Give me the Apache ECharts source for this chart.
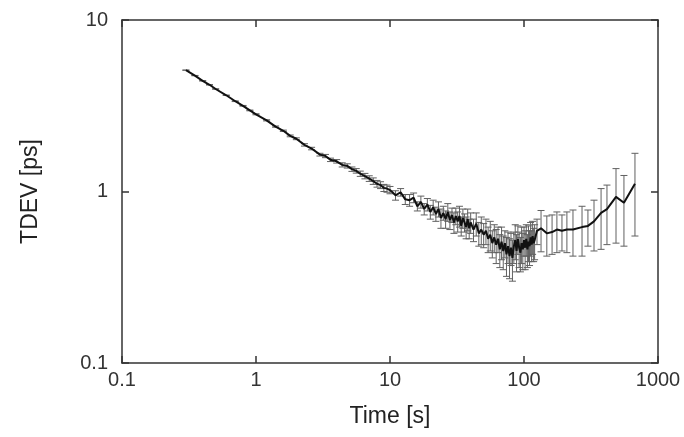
<!DOCTYPE html>
<html>
<head>
<meta charset="utf-8">
<title>TDEV</title>
<script src="https://cdn.jsdelivr.net/npm/echarts@6/dist/echarts.min.js"></script>
<style>
html,body{margin:0;padding:0;background:#fff;}
#main{width:684px;height:437px;}
</style>
</head>
<body>
<div id="main"></div>
<script>
// averaging time [s]
var tau = [
	0.3,0.35,0.4,0.45,0.5,0.6,0.7,0.8,0.9,1.0,1.2,1.4,1.6,1.8,2.0,2.3,2.6,3.0,3.3,3.6,4.0,4.4,4.8,5.2,5.6,6.0,6.5,7.0,7.5,8.0,8.5,9.0,9.5,
	10,11,12,13,14,15,16,17,18,19,20,21,22,23,24,25,26,27,28,29,30,31,32,33,34,35,36,37,38,39,40,
	42,44,46,48,50,52,54,56,58,60,62,64,66,68,70,72,74,76,78,80,82,84,86,88,90,92,94,96,98,100,102,104,106,108,110,112,114,116,118,120,
	125,134,148,162,176,192,209,232,271,300,333,376,416,486,557,673
];
// TDEV [ps]
var tdev = [
	5.10,4.74,4.42,4.19,3.96,3.64,3.36,3.16,2.97,2.82,2.60,2.39,2.26,2.11,2.03,1.87,1.78,1.64,1.61,1.53,1.50,1.43,1.41,1.35,1.32,1.27,1.23,1.19,1.15,1.11,1.09,1.05,1.04,
	1.02,0.95,0.99,0.90,0.89,0.92,0.82,0.87,0.79,0.84,0.76,0.81,0.74,0.79,0.70,0.75,0.69,0.76,0.68,0.73,0.66,0.72,0.67,0.72,0.63,0.70,0.66,0.62,0.69,0.61,0.66,
	0.60,0.65,0.57,0.60,0.56,0.59,0.53,0.56,0.50,0.54,0.49,0.53,0.46,0.51,0.45,0.50,0.43,0.48,0.42,0.47,0.41,0.48,0.52,0.45,0.53,0.47,0.44,0.50,0.46,0.52,0.47,0.53,0.46,0.51,0.48,0.54,0.49,0.55,0.50,0.52,
	0.59,0.61,0.57,0.58,0.60,0.59,0.60,0.60,0.62,0.63,0.67,0.75,0.79,0.93,0.86,1.11
];
// error bar half width [ps]
var tdevErr = [
	0.01,0.01,0.01,0.01,0.01,0.01,0.015,0.015,0.015,0.02,0.02,0.02,0.02,0.025,0.025,0.03,0.03,0.03,0.035,0.035,0.035,0.04,0.04,0.04,0.04,0.045,0.045,0.045,0.05,0.05,0.05,0.05,0.05,
	0.05,0.06,0.05,0.06,0.07,0.06,0.05,0.07,0.06,0.07,0.07,0.08,0.07,0.08,0.09,0.07,0.08,0.09,0.08,0.07,0.09,0.08,0.09,0.10,0.08,0.09,0.08,0.09,0.10,0.08,0.09,
	0.09,0.10,0.09,0.11,0.09,0.10,0.09,0.11,0.09,0.10,0.11,0.09,0.10,0.11,0.10,0.09,0.11,0.10,0.11,0.10,0.11,0.10,0.12,0.11,0.10,0.11,0.10,0.12,0.11,0.10,0.12,0.11,0.10,0.12,0.11,0.12,0.10,0.12,0.11,0.12,
	0.10,0.165,0.15,0.15,0.16,0.14,0.16,0.18,0.20,0.15,0.22,0.29,0.30,0.43,0.38,0.56
];
var xTicks = [0.1, 1, 10, 100, 1000];
var yTicks = [0.1, 1, 10];

var lineData = [];
var errData = [];
for (var i = 0; i < tau.length; i++) {
	lineData.push([tau[i], tdev[i]]);
	errData.push([tau[i], tdev[i] - tdevErr[i], tdev[i] + tdevErr[i]]);
}

function fmtTick(v){
	return String(+Number(v).toPrecision(6));
}

var axisCol = '#333';
var myChart = echarts.init(document.getElementById('main'));
var option = {
	backgroundColor: '#fff',
	animation: false,
	textStyle: { fontFamily: 'Liberation Sans, Arial, sans-serif' },
	grid: { left: 122, right: 26, top: 20, bottom: 74 },
	xAxis: [{
		type: 'log', logBase: 10, min: xTicks[0], max: xTicks[xTicks.length - 1],
		name: 'Time [s]', nameLocation: 'middle', nameGap: 42,
		nameTextStyle: { fontSize: 23, color: '#222' },
		axisLine: { show: true, lineStyle: { color: axisCol, width: 1.5 } },
		axisTick: { inside: true, length: 7, lineStyle: { color: axisCol, width: 1.5 } },
		axisLabel: { fontSize: 20, color: '#333', margin: 7, formatter: fmtTick },
		splitLine: { show: false }, minorTick: { show: false }
	}, {
		type: 'log', logBase: 10, min: xTicks[0], max: xTicks[xTicks.length - 1], position: 'top',
		axisLine: { show: true, lineStyle: { color: axisCol, width: 1.5 } },
		axisTick: { inside: true, length: 7, lineStyle: { color: axisCol, width: 1.5 } },
		axisLabel: { show: false }, splitLine: { show: false }
	}],
	yAxis: [{
		type: 'log', logBase: 10, min: yTicks[0], max: yTicks[yTicks.length - 1],
		name: 'TDEV [ps]', nameLocation: 'middle', nameGap: 80,
		nameTextStyle: { fontSize: 23, color: '#222' },
		axisLine: { show: true, lineStyle: { color: axisCol, width: 1.5 } },
		axisTick: { inside: true, length: 7, lineStyle: { color: axisCol, width: 1.5 } },
		axisLabel: { fontSize: 20, color: '#333', margin: 14, formatter: fmtTick },
		splitLine: { show: false }, minorTick: { show: false }
	}, {
		type: 'log', logBase: 10, min: yTicks[0], max: yTicks[yTicks.length - 1], position: 'right',
		axisLine: { show: true, lineStyle: { color: axisCol, width: 1.5 } },
		axisTick: { inside: true, length: 7, lineStyle: { color: axisCol, width: 1.5 } },
		axisLabel: { show: false }, splitLine: { show: false }
	}],
	series: [{
		type: 'custom',
		name: 'error',
		xAxisIndex: 0, yAxisIndex: 0,
		encode: { x: 0, y: [1, 2] },
		data: errData,
		z: 2,
		renderItem: function (params, api) {
			var x = api.value(0);
			var lo = api.coord([x, api.value(1)]);
			var hi = api.coord([x, api.value(2)]);
			var w = 3.5;
			var st = { stroke: '#606060', lineWidth: 1 };
			return {
				type: 'group',
				children: [
					{ type: 'line', shape: { x1: lo[0], y1: lo[1], x2: hi[0], y2: hi[1] }, style: st },
					{ type: 'line', shape: { x1: lo[0] - w, y1: lo[1], x2: lo[0] + w, y2: lo[1] }, style: st },
					{ type: 'line', shape: { x1: hi[0] - w, y1: hi[1], x2: hi[0] + w, y2: hi[1] }, style: st }
				]
			};
		}
	}, {
		type: 'line',
		name: 'TDEV',
		xAxisIndex: 0, yAxisIndex: 0,
		data: lineData,
		showSymbol: false,
		z: 3,
		lineStyle: { color: '#111', width: 2 }
	}]
};
myChart.setOption(option, true);
</script>
</body>
</html>
